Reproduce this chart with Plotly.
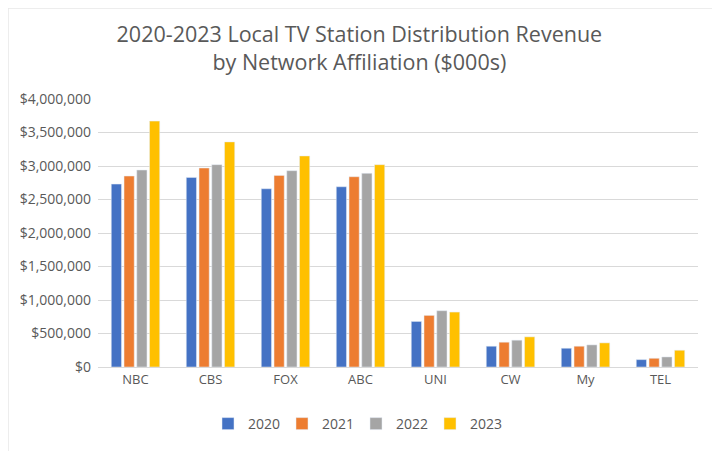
import plotly.graph_objects as go

# network affiliations and yearly distribution revenue ($000s)
networks = ['NBC', 'CBS', 'FOX', 'ABC', 'UNI', 'CW', 'My', 'TEL']
years = ['2020', '2021', '2022', '2023']
rev_2020 = [2730000, 2830000, 2660000, 2690000, 680000, 310000, 280000, 110000]
rev_2021 = [2850000, 2970000, 2860000, 2840000, 770000, 370000, 310000, 130000]
rev_2022 = [2940000, 3020000, 2930000, 2890000, 840000, 400000, 330000, 150000]
rev_2023 = [3670000, 3360000, 3150000, 3020000, 820000, 450000, 360000, 250000]
colors = ['#4472C4', '#ED7D31', '#A5A5A5', '#FFC000']

W, H = 720, 451
ml, mr, mt, mb = 90, 30, 91, 92

fig = go.Figure()
for yr, vals, c in zip(years, [rev_2020, rev_2021, rev_2022, rev_2023], colors):
    fig.add_trace(go.Bar(x=networks, y=vals, name=yr, marker_color=c))

# faint frame around the whole chart, like the exported image
pw, ph = W - ml - mr, H - mt - mb
fig.add_shape(type='rect', xref='paper', yref='paper',
              x0=-ml / pw, x1=1 + (mr - 15) / pw,
              y0=-(mb - 4) / ph, y1=1 + mt / ph,
              line=dict(color='#E8E8E8', width=1.5), layer='below')

fig.update_layout(
    width=W, height=H,
    font=dict(family='Open Sans', color='#595959', size=13),
    title=dict(text='2020-2023 Local TV Station Distribution Revenue<br>by Network Affiliation ($000s)',
               x=0.488, xanchor='center', y=0.925, yanchor='top',
               font=dict(size=21.5, color='#595959')),
    barmode='group', bargap=0.32, bargroupgap=0.2,
    plot_bgcolor='white', paper_bgcolor='white',
    margin=dict(l=ml, r=mr, t=mt, b=mb),
    legend=dict(orientation='h', x=0.43, xanchor='center',
                y=-0.153, yanchor='top',
                font=dict(size=14), itemwidth=30, entrywidth=29, entrywidthmode='pixels'),
    showlegend=True,
)
fig.update_yaxes(range=[0, 4000000], dtick=500000, tickprefix='$', tickformat=',',
                 gridcolor='#D9D9D9', zeroline=False, ticks='', tickfont=dict(size=14),
                 ticklabelstandoff=6)
fig.update_xaxes(showline=True, linecolor='#D9D9D9', tickfont=dict(size=13), tickangle=0)

fig.write_html("out.html")
